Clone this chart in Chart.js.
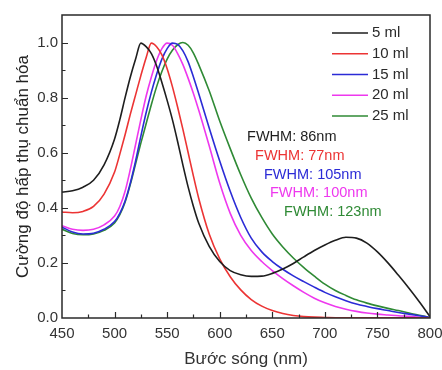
<!DOCTYPE html>
<html>
<head>
<meta charset="utf-8">
<script src="https://cdn.jsdelivr.net/npm/chart.js@4.4.1/dist/chart.umd.min.js"></script>
<style>
  html, body { margin: 0; padding: 0; background: #fff; }
  #wrap { width: 442px; height: 370px; }
</style>
</head>
<body>
<div id="wrap"><canvas id="chart" width="442" height="370"></canvas></div>
<script>
// wavelengths (nm)
const wavelengths = [450, 460, 470, 480, 490, 500, 505, 510, 515, 520, 525, 530, 535, 540, 545, 550, 555, 560, 565, 570, 575, 580,
  590, 600, 610, 620, 630, 640, 650, 660, 670, 680, 690, 700, 710, 720, 730, 740, 750, 760, 770, 780, 790, 800];

const seriesLabels = ["5 ml", "10 ml", "15 ml", "20 ml", "25 ml"];
const seriesColors = ["#1e1e1e", "#ec3434", "#2b2bd6", "#ee38ee", "#2f8a35"];

// normalized absorbance
const abs5ml = [0.457, 0.462, 0.475, 0.50, 0.556, 0.65, 0.72, 0.80, 0.875, 0.94, 0.998, 0.985, 0.96, 0.915, 0.855, 0.79, 0.72, 0.64, 0.555, 0.475, 0.405, 0.345,
  0.26, 0.205, 0.172, 0.157, 0.151, 0.152, 0.162, 0.178, 0.198, 0.222, 0.245, 0.265, 0.282, 0.293, 0.29, 0.272, 0.24, 0.2, 0.155, 0.108, 0.058, 0.005];
const abs10ml = [0.385, 0.382, 0.387, 0.405, 0.45, 0.53, 0.595, 0.665, 0.74, 0.81, 0.88, 0.945, 0.998, 0.985, 0.955, 0.905, 0.84, 0.765, 0.685, 0.60, 0.515, 0.435,
  0.305, 0.215, 0.15, 0.102, 0.067, 0.043, 0.027, 0.016, 0.009, 0.005, 0.003, 0.002, 0.001, 0.001, 0.001, 0.001, 0.001, 0.001, 0.001, 0.001, 0.001, 0.0];
const abs15ml = [0.33, 0.312, 0.305, 0.308, 0.322, 0.35, 0.38, 0.425, 0.49, 0.57, 0.66, 0.745, 0.82, 0.885, 0.94, 0.978, 0.998, 0.993, 0.97, 0.93, 0.875, 0.815,
  0.69, 0.57, 0.46, 0.365, 0.29, 0.24, 0.205, 0.177, 0.153, 0.132, 0.112, 0.093, 0.077, 0.063, 0.051, 0.042, 0.034, 0.027, 0.02, 0.014, 0.008, 0.002];
const abs20ml = [0.335, 0.322, 0.318, 0.322, 0.338, 0.37, 0.405, 0.46, 0.54, 0.63, 0.72, 0.805, 0.875, 0.935, 0.978, 0.998, 0.99, 0.96, 0.92, 0.87, 0.815, 0.755,
  0.625, 0.49, 0.38, 0.30, 0.245, 0.205, 0.172, 0.143, 0.117, 0.093, 0.072, 0.055, 0.042, 0.032, 0.024, 0.018, 0.014, 0.011, 0.008, 0.006, 0.003, 0.001];
const abs25ml = [0.322, 0.307, 0.302, 0.305, 0.318, 0.345, 0.375, 0.42, 0.485, 0.56, 0.635, 0.705, 0.775, 0.84, 0.895, 0.94, 0.972, 0.992, 1.0, 0.99, 0.962, 0.92,
  0.825, 0.715, 0.615, 0.52, 0.435, 0.365, 0.305, 0.258, 0.218, 0.183, 0.152, 0.123, 0.1, 0.082, 0.066, 0.054, 0.044, 0.035, 0.027, 0.018, 0.01, 0.002];

const allSeries = [abs5ml, abs10ml, abs15ml, abs20ml, abs25ml];

const xTicks = [450, 500, 550, 600, 650, 700, 750, 800];
const yTicks = [0.0, 0.2, 0.4, 0.6, 0.8, 1.0];

// FWHM notes: text, wavelength, value
const fwhmTexts = ["FWHM: 86nm", "FWHM: 77nm", "FWHM: 105nm", "FWHM: 100nm", "FWHM: 123nm"];
const fwhmAtX = [626, 633.6, 642.1, 647.8, 661.2];
const fwhmAtY = [0.657, 0.588, 0.519, 0.454, 0.385];

const FONT = "'Liberation Sans', Arial, sans-serif";

const datasets = allSeries.map((vals, i) => ({
  label: seriesLabels[i],
  data: wavelengths.map((w, j) => ({ x: w, y: vals[j] })),
  borderColor: seriesColors[i],
  borderWidth: 1.6,
  pointRadius: 0,
  fill: false,
  cubicInterpolationMode: "monotone",
}));

// inward ticks, frame, legend and FWHM notes
const decorPlugin = {
  id: "decor",
  afterDraw(chart) {
    const ctx = chart.ctx;
    const area = chart.chartArea;
    const xs = chart.scales.x;
    const ys = chart.scales.y;
    ctx.save();
    ctx.strokeStyle = "#2a2a2a";
    ctx.lineWidth = 1.2;
    ctx.beginPath();
    for (let v = 475; v < 800; v += 25) {
      const px = Math.round(xs.getPixelForValue(v)) + 0.5;
      const len = v % 50 === 0 ? 6 : 3.5;
      ctx.moveTo(px, area.bottom);
      ctx.lineTo(px, area.bottom - len);
    }
    for (let k = 1; k <= 10; k++) {
      const v = k / 10;
      const py = Math.round(ys.getPixelForValue(v)) + 0.5;
      const len = k % 2 === 0 ? 6 : 3.5;
      ctx.moveTo(area.left, py);
      ctx.lineTo(area.left + len, py);
    }
    ctx.stroke();

    ctx.lineWidth = 1.5;
    ctx.strokeRect(area.left, area.top, area.right - area.left, area.bottom - area.top);

    // legend
    ctx.font = "15px " + FONT;
    ctx.textBaseline = "middle";
    ctx.textAlign = "left";
    seriesLabels.forEach((lab, i) => {
      const y = 33 + i * 20.75;
      ctx.strokeStyle = seriesColors[i];
      ctx.lineWidth = 1.6;
      ctx.beginPath();
      ctx.moveTo(332, y);
      ctx.lineTo(368, y);
      ctx.stroke();
      ctx.fillStyle = "#2a2a2a";
      ctx.fillText(lab, 372, y);
    });

    // FWHM notes
    ctx.font = "14.5px " + FONT;
    fwhmTexts.forEach((t, i) => {
      ctx.fillStyle = seriesColors[i];
      ctx.fillText(t, xs.getPixelForValue(fwhmAtX[i]), ys.getPixelForValue(fwhmAtY[i]));
    });
    ctx.restore();
  },
};

new Chart(document.getElementById("chart"), {
  type: "line",
  data: { datasets },
  options: {
    responsive: false,
    animation: false,
    layout: { padding: { top: 15, right: 0, left: 13, bottom: 0 } },
    plugins: { legend: { display: false }, tooltip: { enabled: false } },
    scales: {
      x: {
        type: "linear",
        min: 450,
        max: 800,
        afterBuildTicks: (s) => { s.ticks = xTicks.map((v) => ({ value: v })); },
        afterFit: (s) => { s.height = 52; s.paddingRight = 12; s.paddingLeft = 0; },
        grid: { display: false, drawTicks: false },
        border: { display: false },
        ticks: { padding: 7, color: "#333", font: { size: 15, family: FONT }, maxRotation: 0 },
        title: { display: true, text: "Bước sóng (nm)", color: "#333", font: { size: 17, family: FONT }, padding: { top: 3, bottom: 0 } },
      },
      y: {
        min: 0,
        max: 1.1,
        afterBuildTicks: (s) => { s.ticks = yTicks.map((v) => ({ value: v })); },
        afterFit: (s) => { s.width = 49; },
        grid: { display: false, drawTicks: false },
        border: { display: false },
        ticks: { padding: 4, color: "#333", font: { size: 15, family: FONT }, callback: (v) => Number(v).toFixed(1) },
        title: { display: true, text: "Cường độ hấp thụ chuẩn hóa", color: "#222", font: { size: 17, family: FONT }, padding: { top: 0, bottom: 0 } },
      },
    },
  },
  plugins: [decorPlugin],
});
</script>
</body>
</html>
